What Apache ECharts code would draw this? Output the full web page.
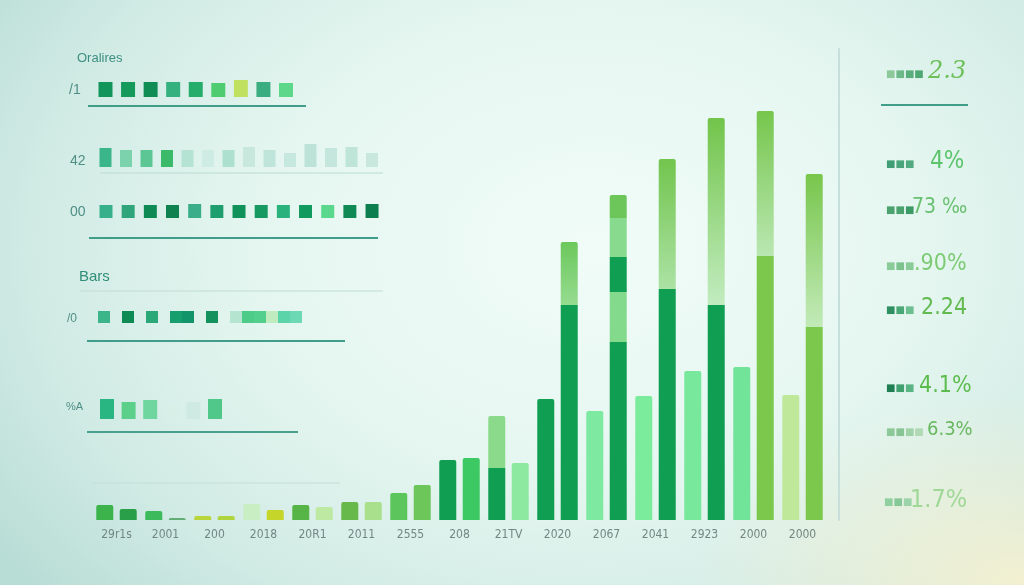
<!DOCTYPE html>
<html>
<head>
<meta charset="utf-8">
<script src="https://cdn.jsdelivr.net/npm/echarts@6/dist/echarts.min.js"></script>
<style>
html,body{margin:0;padding:0;width:1024px;height:585px;overflow:hidden;}
body{
  background:
    radial-gradient(ellipse 32% 32% at 100% 100%, rgba(246,241,208,0.95) 0%, rgba(246,241,208,0) 100%),
    radial-gradient(ellipse 72% 90% at 58% 42%, #f1fcf8 0%, #e5f6f0 45%, #d2ebe5 75%, #b8ddd6 100%);
}
#chart{width:1024px;height:585px;}
</style>
</head>
<body>
<div id="chart"></div>
<script>
// ---------- main chart data ----------
const categories = ['29r1s','2001','200','2018','20R1','2011','2555','208','21TV','2020','2067','2041','2923','2000','2000'];
const leftBase  = [15, 9, 4, 16, 15, 18, 27, 60, 52, 121, 109, 124, 149, 153, 125];
const leftTop   = ['-','-','-','-','-','-','-','-', 52,'-','-','-','-','-','-'];
const rightBase = [11, 2, 4, 10, 13, 18, 35, 62, 57, 215, 178, 231, 215, 264, 193];
const rightSeg2 = ['-','-','-','-','-','-','-','-','-', 63, 50, 130, 187, 145, 153];
const rightSeg3 = ['-','-','-','-','-','-','-','-','-','-', 35,'-','-','-','-'];
const rightSeg4 = ['-','-','-','-','-','-','-','-','-','-', 39,'-','-','-','-'];
const rightSeg5 = ['-','-','-','-','-','-','-','-','-','-', 23,'-','-','-','-'];

// ---------- left panel rows (square heights) ----------
const row1Heights = [15,15,15,15,15,14,17,15,14];
const row2Heights = [19,17,17,17,17,17,17,20,17,14,23,19,20,14];
const row3Heights = [13,13,13,13,14,13,13,13,13,13,13,13,14];
const row4Heights = [12,'-',12,'-',12,'-',12,12,'-',12,'-',12,12,12,12,12,12];
const row5Heights = [20,17,19,15,17,20];

// ---------- texts ----------
const panelTitle = 'Oralires';
const panelSubtitle = 'Bars';
const rowLabels = ['/1','42','00','/0','%A'];
const rightValues = ['2.3','4%','73 ‰','.90%','2.24','4.1%','6.3%','1.7%'];

// ---------- styles ----------
const DG = '#0f9e52';
const leftBaseColors = ['#3cb44b','#3dba5c','#b8d63a','#c9eec4','#57b446','#68b94b','#5cc65c',DG,DG,DG,'#7ee9a0','#7beb9c','#78e89c','#72e49a','#c0e89a'];
const leftTopColors  = {8:['#8bd98a','#8bd98a']};
const rightBaseColors= ['#2a9f4a','#62ad74','#b0d43c','#c6d52a','#bde9a3','#a8e08c','#6cc65a','#3cc862','#8ee9a0',DG,DG,DG,DG,'#7cc84d','#7cc84d'];
const rightSeg2Colors= {9:['#6cc85c','#96dc90'],10:['#84da8c','#84da8c'],11:['#72c54e','#ace2a4'],12:['#72c44a','#c2ecc0'],13:['#76c64c','#bae7b2'],14:['#78c64c','#c2eab8']};
const rightSeg3Colors= {10:[DG,DG]};
const rightSeg4Colors= {10:['#88da8e','#88da8e']};
const rightSeg5Colors= {10:['#6cc65a','#6cc65a']};

const row1Colors = ['#12955a','#169a5c','#0f8d55','#35b07f','#27ad6b','#4fcc70','#c0e060','#3aae80','#5dd88a'];
const row2Colors = ['#3bb58a','#7bd2ad','#5cc695','#3bba6a','#b5e3d3','#cfece4','#aee0d0','#c8e8de','#bfe5da','#c6e8de','#bde3d8','#c4e6dc','#bfe4d8','#c8e8de'];
const row3Colors = ['#35b08a','#2ea57a','#0e8a55','#0f8250','#3aae88','#1e9e6e','#10935a','#169a62','#2ab27c','#109a5d','#5ad88e','#0f8a55','#0c7f4e'];
const row4Colors = ['#3cb58a',null,'#0e8a55',null,'#2aa878',null,'#169e6e','#12946a',null,'#14925e',null,'#b5e5d0','#4ccc88','#52cf8c','#c0ecc0','#5ad4a8','#6cd8b4'];
const row5Colors = ['#2ab682','#5cd08a','#6fd6a0','#d8efe8','#cfeae2','#50c88a'];

const iconColors = [
  ['#8cc89a','#6cb888','#5aae7c','#4fa874'],
  ['#3f9e74','#4aa67a','#52ab80'],
  ['#4aa36e','#4aa36e','#3c9a66'],
  ['#8acb9a','#7cc28e','#8acb9a'],
  ['#2e8f60','#4aa876','#6cbf8e'],
  ['#1f7f52','#3fa070','#5ab585'],
  ['#8cc898','#88c494','#a0d2a8','#b0d8b4'],
  ['#90cfa0','#86c898','#9ad4a8']
];
const valueColors = ['#6ebf5a','#5cc46c','#68c070','#7ccb74','#62ba50','#5cbd4e','#6ab860','#a0d898'];

// ---------- helpers ----------
const LG = (a,b)=> new echarts.graphic.LinearGradient(0,0,0,1,[{offset:0,color:a},{offset:1,color:b}]);
const stacksL = [leftBase, leftTop];
const stacksR = [rightBase, rightSeg2, rightSeg3, rightSeg4, rightSeg5];
function isTop(stack, level, i){
  for(let k=level+1;k<stack.length;k++){ if(stack[k][i] !== '-') return false; }
  return true;
}
function buildItems(stack, level, colorSpec){
  return stack[level].map((v,i)=>{
    if(v==='-') return '-';
    let c;
    if(Array.isArray(colorSpec)) c = colorSpec[i];
    else { const p = colorSpec[i]; c = p[0]===p[1] ? p[0] : LG(p[0],p[1]); }
    return {value:v, itemStyle:{color:c, borderRadius: isTop(stack,level,i)?[2,2,0,0]:0}};
  });
}
const BW = 17, GAP = '38%';
function barSeries(name, stackName, data){
  return {name, type:'bar', stack:stackName, barWidth:BW, barGap:GAP, xAxisIndex:0, yAxisIndex:0,
          data, silent:true, animation:false};
}

// ---------- left panel rows layout ----------
const rows = [
  {h:row1Heights, c:row1Colors, c0:105.5, step:22.56, bw:14, base:97},
  {h:row2Heights, c:row2Colors, c0:105.5, step:20.5,  bw:12, base:167},
  {h:row3Heights, c:row3Colors, c0:106,   step:22.17, bw:13, base:218},
  {h:row4Heights, c:row4Colors, c0:104,   step:12,    bw:12, base:323},
  {h:row5Heights, c:row5Colors, c0:107,   step:21.6,  bw:14, base:419}
];

const grids = [{left:92, right:197, top:49, bottom:65}];
const xAxes = [{type:'category', data:categories, gridIndex:0,
  axisLine:{show:false}, axisTick:{show:false},
  axisLabel:{interval:0, margin:9, color:'#728783', fontSize:12, fontFamily:'DejaVu Sans Condensed, DejaVu Sans, sans-serif'}}];
const yAxes = [{type:'value', gridIndex:0, min:0, max:471, position:'right', offset:12,
  axisLine:{show:true, lineStyle:{color:'#c6dfda', width:2}}, axisTick:{show:false},
  axisLabel:{show:false}, splitLine:{show:false}}];
const series = [
  barSeries('L1','L', buildItems(stacksL,0,leftBaseColors)),
  barSeries('L2','L', buildItems(stacksL,1,leftTopColors)),
  barSeries('R1','R', buildItems(stacksR,0,rightBaseColors)),
  barSeries('R2','R', buildItems(stacksR,1,rightSeg2Colors)),
  barSeries('R3','R', buildItems(stacksR,2,rightSeg3Colors)),
  barSeries('R4','R', buildItems(stacksR,3,rightSeg4Colors)),
  barSeries('R5','R', buildItems(stacksR,4,rightSeg5Colors))
];

rows.forEach((r,k)=>{
  const gi = k+1;
  grids.push({left: r.c0 - r.step/2, width: r.h.length*r.step, bottom: 585 - r.base, height: 25});
  xAxes.push({type:'category', gridIndex:gi, data:r.h.map((_,i)=>String(i)), show:false});
  yAxes.push({type:'value', gridIndex:gi, min:0, max:25, show:false});
  series.push({type:'bar', xAxisIndex:gi, yAxisIndex:gi, barWidth:r.bw, silent:true, animation:false,
    data: r.h.map((v,i)=> v==='-' ? '-' : {value:v, itemStyle:{color:r.c[i]}})});
});

// ---------- decorative texts and rules ----------
const graphic = [];
const rule = (x1,x2,y,w,c)=>({type:'line', silent:true, shape:{x1,y1:y,x2,y2:y}, style:{stroke:c, lineWidth:w}});
graphic.push(rule(88,306,106,2,'#3f9d8a'));
graphic.push(rule(100,383,173,1,'#b9dbd3'));
graphic.push(rule(89,378,238,2,'#3f9d8a'));
graphic.push(rule(80,383,291,1,'#bfdcd5'));
graphic.push(rule(87,345,341,2,'#3f9d8a'));
graphic.push(rule(87,298,432,2,'#4aa090'));
graphic.push(rule(93,340,483,1,'#c3ded8'));
graphic.push(rule(881,968,105,2,'#3f9d8a'));

const txt = (s,x,y,size,color,extra)=>({type:'text', silent:true, x, y,
  style:Object.assign({text:s, fill:color, fontSize:size, fontFamily:'Liberation Sans, Arial, sans-serif', verticalAlign:'middle', align:'left'}, extra||{})});
graphic.push(txt(panelTitle,77,58,13,'#3d8f82'));
graphic.push(txt(panelSubtitle,79,277,15,'#2f8f78'));
const rowLabelPos = [[69,90,14],[70,161,14],[70,212,14],[67,319,12],[66,407,11]];
rowLabels.forEach((s,i)=> graphic.push(txt(s,rowLabelPos[i][0],rowLabelPos[i][1],rowLabelPos[i][2],'#4f8f86')));

const rightY = [72,162,208,264,308,386,430,500];
const rightX = [928,930,912,914,921,919,927,910];
const rightSize = [24,24,21,23,23,23,20,25];
rightValues.forEach((s,i)=>{
  const extra = i===0 ? {fontStyle:'italic', fontFamily:'DejaVu Serif, serif'} : {fontFamily:'DejaVu Sans Condensed, DejaVu Sans, sans-serif'};
  graphic.push(txt(s,rightX[i],rightY[i],rightSize[i],valueColors[i],extra));
  const rich = {};
  let str = '';
  iconColors[i].forEach((c,j)=>{ rich['c'+j] = {fill:c, fontSize:10, fontFamily:'DejaVu Sans, sans-serif'}; str += '{c'+j+'|■}'; });
  graphic.push({type:'text', silent:true, x:(i===7?884:886), y:rightY[i]+2, style:{text:str, rich, verticalAlign:'middle', align:'left'}});
});

const chart = echarts.init(document.getElementById('chart'), null, {renderer:'canvas'});
chart.setOption({
  backgroundColor:'transparent',
  animation:false,
  grid:grids, xAxis:xAxes, yAxis:yAxes, series, graphic
});
</script>
</body>
</html>
